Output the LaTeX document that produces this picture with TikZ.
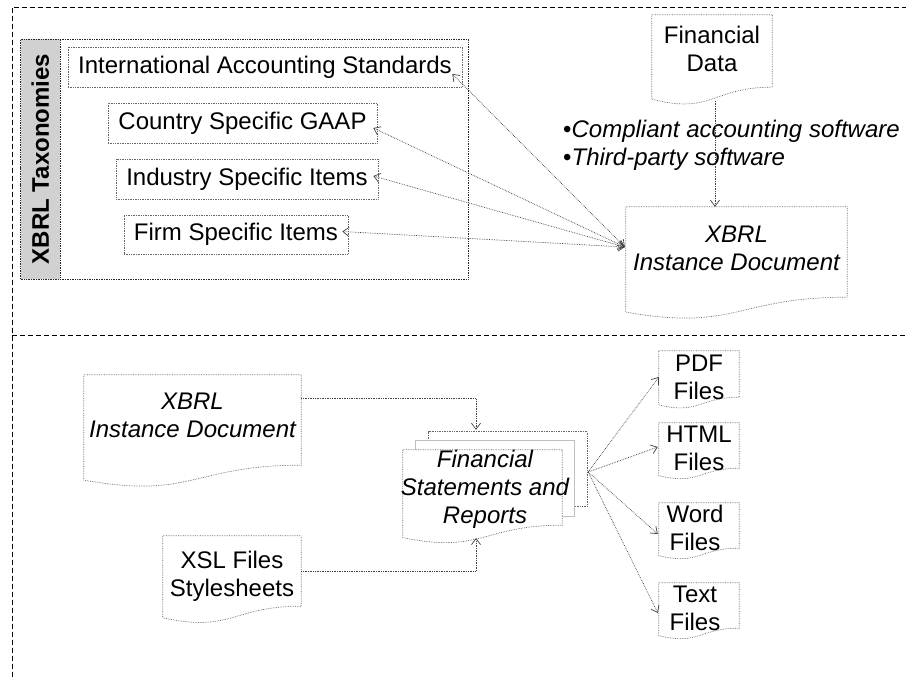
\documentclass[tikz,border=0pt]{standalone}
\usepackage{fontspec}
\setmainfont{Liberation Sans}
\usetikzlibrary{calc,arrows.meta}
\tikzset{
  frame/.style={draw=black, line width=0.6pt, dash pattern=on 5pt off 3pt},
  box/.style={draw=black!60, line width=0.7pt, densely dotted, inner sep=0pt},
  blank/.style={inner sep=0pt, draw=none},
  docline/.style={draw=black!60, line width=0.7pt, densely dotted},
  lbl/.style={font=\fontsize{24}{28}\selectfont, align=center, inner sep=0pt},
  ilbl/.style={font=\fontsize{24}{28}\selectfont\itshape, align=center, inner sep=0pt},
  tip/.style={Straight Barb[length=6pt,width=9pt]},
  conn/.style={draw=black!75, line width=0.7pt, densely dotted, -{Straight Barb[length=6pt,width=9pt]}},
  dconn/.style={draw=black!75, line width=0.7pt, densely dotted, {Straight Barb[length=6pt,width=9pt]}-{Straight Barb[length=6pt,width=9pt]}},
}
% document outline around a rectangle node (flat part)
\newcommand{\docout}[1]{%
  \draw[docline] (#1.north west) -- (#1.north east) -- (#1.south east)
    .. controls ($(#1.south)$) and ($(#1.north)!1.381!(#1.south)$)
    .. ($(#1.north west)!1.1646!(#1.south west)$) -- cycle;}
\begin{document}
\begin{tikzpicture}[x=1pt,y=-1pt]
\useasboundingbox (0,0) rectangle (906,677);
% outer frame
\draw[frame] (12,677) -- (12,7) -- (906,7);
\draw[frame] (12,335) -- (906,335);

% taxonomy frame
\node[box, draw=black!85, minimum width=447.3, minimum height=240] (tax) at (244.35,159) {};
\node[blank, fill=black!18, draw=black!85, densely dotted, line width=0.7pt, minimum width=39.3, minimum height=240] (band) at (40.35,159) {};
\node[font=\fontsize{24}{28}\selectfont\bfseries, rotate=90, inner sep=0pt] (taxt) at (band.center) {XBRL Taxonomies};

\node[box, minimum width=394, minimum height=40, lbl] (ias) at (265,67) {International Accounting Standards};
\node[box, minimum width=269, minimum height=40, lbl] (cty) at (242.5,123) {Country Specific GAAP};
\node[box, minimum width=262, minimum height=40, lbl] (ind) at (247,179) {Industry Specific Items};
\node[box, minimum width=224, minimum height=39, lbl] (firm) at (236,234.5) {Firm Specific Items};

% Financial Data
\node[blank, minimum width=120, minimum height=72] (fd) at (712,51) {};
\docout{fd}
\node[lbl] (fdt) at (712,49) {Financial\\Data};

% bullets
\node[ilbl, align=left, anchor=west] (sw) at (563,145) {{\upshape\textbullet}Compliant accounting software\\{\upshape\textbullet}Third-party software};

% XBRL instance top
\node[blank, minimum width=221, minimum height=90] (idt) at (736.5,252) {};
\docout{idt}
\node[ilbl] (idtt) at (736.5,248) {XBRL\\Instance Document};

\coordinate (fdb) at (715,101);
\draw[conn] (fdb) -- (fdb |- idt.north);

\coordinate (hub) at ($(idt.west)+(-1,-5)$);
\draw[dconn] (hub) -- ($(ias.east)+(-10,7)$);
\draw[dconn] (hub) -- ($(cty.east)+(-4,5)$);
\draw[dconn] (hub) -- ($(ind.east)+(-5,-3)$);
\draw[dconn] (hub) -- ($(firm.east)+(-6,-3)$);

% bottom part
\node[blank, minimum width=217, minimum height=90] (ib) at (192.5,420) {};
\docout{ib}
\node[ilbl] (ibt) at (192.5,415) {XBRL\\Instance Document};

\node[blank, minimum width=138, minimum height=70] (xsl) at (232,571) {};
\docout{xsl}
\node[lbl] (xslt) at (232,576) {XSL Files\\Stylesheets};

% stacked documents
\node[blank, minimum width=158, minimum height=74] (fsr) at (508,469) {};
\node[blank, minimum width=158, minimum height=75] (fsm) at (495,478.5) {};
\draw[docline] ($(fsr.north west)+(0,9)$) -- (fsr.north west) -- (fsr.north east) -- (fsr.south east) -- ($(fsr.south east)+(-13,0)$);
\draw[draw=black!25, line width=0.8pt] ($(fsm.north west)+(0,9)$) -- (fsm.north west) -- (fsm.north east) -- (fsm.south east) -- ($(fsm.south east)+(-12,0)$);
\node[blank, fill=white, minimum width=159, minimum height=75] (fs) at (482.5,487.5) {};
\fill[white] (fs.south east) .. controls (fs.south) and ($(fs.north)!1.381!(fs.south)$) .. ($(fs.north west)!1.1646!(fs.south west)$) -- cycle;
\docout{fs}
\node[ilbl] (fst) at (485,489) {Financial\\Statements and\\Reports};

\draw[conn] ($(ib.north east)+(0,24)$) -| ($(fsr.north)+(-32,-2)$);
\draw[conn] (xsl.east) -| (476,538);

% output files
\node[blank, minimum width=80, minimum height=46] (pdf) at (699,374) {};
\docout{pdf}
\node[lbl] (pdft) at (699,377.5) {PDF\\Files};
\node[blank, minimum width=80, minimum height=45] (html) at (699,445.5) {};
\docout{html}
\node[lbl] (htmlt) at (699,448) {HTML\\Files};
\node[blank, minimum width=80, minimum height=45] (word) at (699,525.5) {};
\docout{word}
\node[lbl] (wordt) at (695,528) {Word\\Files};
\node[blank, minimum width=80, minimum height=45] (txt) at (699,605.5) {};
\docout{txt}
\node[lbl] (txtt) at (695,608) {Text\\Files};

\coordinate (fan) at ($(fsr.east)+(1,3)$);
\draw[conn] (fan) -- ($(pdf.west)+(0,3)$);
\draw[conn] (fan) -- ($(html.west)+(-1,1.5)$);
\draw[conn] (fan) -- ($(word.west)+(-1,8.5)$);
\draw[conn] (fan) -- ($(txt.west)+(-1,7.5)$);
\end{tikzpicture}
\end{document}
